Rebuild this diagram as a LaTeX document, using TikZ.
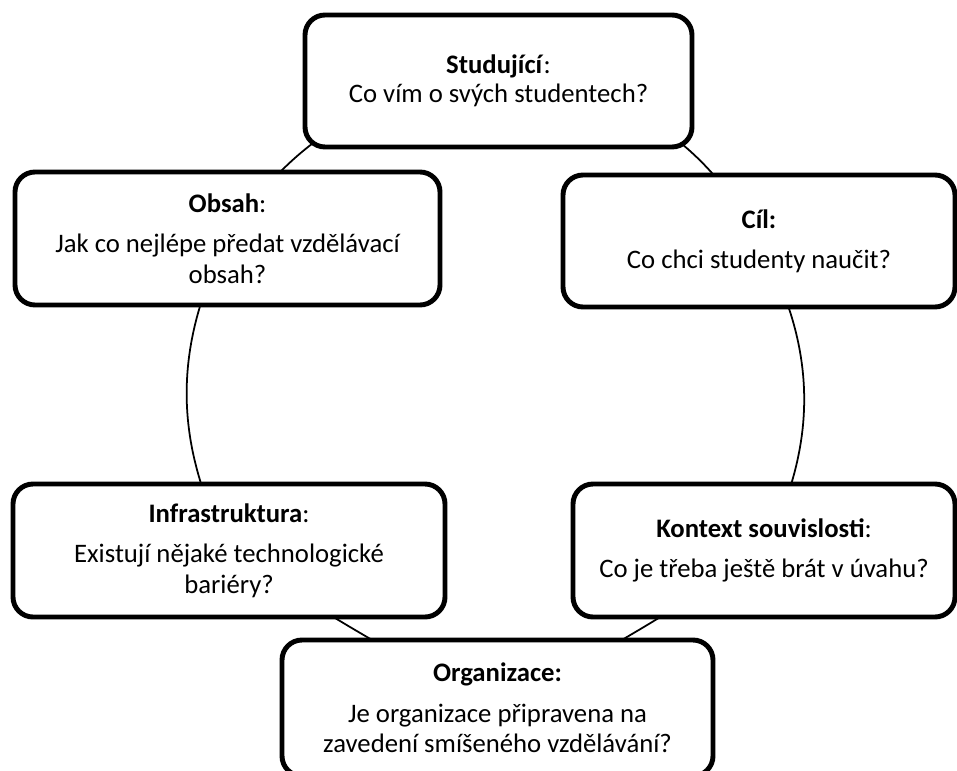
\documentclass[tikz,border=0pt]{standalone}
\usepackage{fontspec}
\setmainfont{Carlito}
\usetikzlibrary{backgrounds}
\begin{document}
\begin{tikzpicture}[
    box/.style={draw, line width=2.8pt, rounded corners=0.4cm, fill=white,
      align=center, inner sep=0pt, font=\fontsize{15.2}{17.5}\selectfont},
    link/.style={line width=1pt}]
  \useasboundingbox (0,0) rectangle (19.14,-15.42);
  % boxes
  \node[box, minimum width=7.74cm, minimum height=2.64cm] (stud) at (9.97,-1.62)
    {\textbf{Studující}:\\[-1pt] Co vím o svých studentech?};
  \node[box, minimum width=8.5cm, minimum height=2.66cm] (obsah) at (4.55,-4.77)
    {\textbf{Obsah}:\\[5.5pt] Jak co nejlépe předat vzdělávací\\ obsah?};
  \node[box, minimum width=7.84cm, minimum height=2.64cm] (cil) at (15.18,-4.82)
    {\textbf{Cíl:}\\[5.5pt] Co chci studenty naučit?};
  \node[box, minimum width=8.64cm, minimum height=2.66cm] (infra) at (4.58,-11.01)
    {\textbf{Infrastruktura}:\\[5.5pt] Existují nějaké technologické\\ bariéry?};
  \node[box, minimum width=7.64cm, minimum height=2.66cm] (kontext) at (15.28,-11.01)
    {\textbf{Kontext souvislosti}:\\[5.5pt] Co je třeba ještě brát v úvahu?};
  \node[box, minimum width=8.62cm, minimum height=2.72cm] (org) at (9.95,-14.16)
    {\textbf{Organizace:}\\[5.5pt] Je organizace připravena na\\ zavedení smíšeného vzdělávání?};
  % cycle
  \begin{scope}[on background layer]
    \draw[link] (stud.center) to[bend right=27] (obsah.center);
    \draw[link] (stud.center) to[bend left=30] (cil.center);
    \draw[link] (obsah.center) to[bend right=27] (infra.center);
    \draw[link] (cil.center) to[bend left=28] (kontext.center);
    \draw[link] (infra.center) to[bend right=3] (org.center);
    \draw[link] (kontext.center) to[bend left=3] (org.center);
  \end{scope}
\end{tikzpicture}
\end{document}
